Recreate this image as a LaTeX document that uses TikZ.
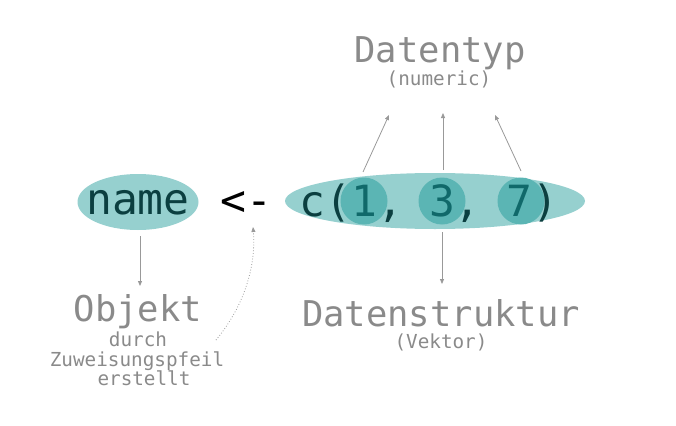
\documentclass[tikz,border=0pt]{standalone}
\usepackage{fontspec}
\setmonofont{DejaVu Sans Mono}
\usetikzlibrary{arrows.meta,shapes.geometric}
\definecolor{lteal}{HTML}{96D0CF}
\definecolor{mteal}{HTML}{5BB5B4}
\definecolor{dteal}{HTML}{0B3F40}
\definecolor{nteal}{HTML}{10696A}
\definecolor{lgray}{HTML}{8A8A8A}
\definecolor{agray}{HTML}{999999}
\tikzset{
  bigcode/.style={font=\ttfamily\fontsize{43}{43}\selectfont, text=dteal, inner sep=0pt},
  title/.style={font=\ttfamily\fontsize{35.5}{36}\selectfont, text=lgray, inner sep=0pt, anchor=base, text depth=0pt},
  sub/.style={font=\ttfamily\fontsize{19.3}{20}\selectfont, text=lgray, inner sep=0pt, anchor=base, text depth=0pt, text height=13pt},
  arr/.style={draw=agray, line width=0.8pt, -{Triangle[length=5pt,width=4pt]}},
  dotarr/.style={draw=agray, line width=0.8pt, dotted, -{Triangle[length=5pt,width=4pt]}},
}
\begin{document}
\begin{tikzpicture}[x=1pt,y=-1pt]
\useasboundingbox (0,0) rectangle (676,425);
% ellipses
\node[ellipse, fill=lteal, minimum width=121pt, minimum height=56pt, inner sep=0pt] (nameE) at (138,202) {};
\node[ellipse, fill=lteal, minimum width=300pt, minimum height=56pt, inner sep=0pt] (vecE) at (435,201) {};
\node[circle, fill=mteal, minimum size=47pt, inner sep=0pt] (c1) at (364,201) {};
\node[circle, fill=mteal, minimum size=47pt, inner sep=0pt] (c3) at (442,201) {};
\node[circle, fill=mteal, minimum size=47pt, inner sep=0pt] (c7) at (521,201) {};
% code text
\node[bigcode] (name) at (138,203) {name};
\node[bigcode, text=black] (assign) at (246,203) {<-};
\node[bigcode, anchor=center] (code) at (429,203) {c(\textcolor{nteal}{1}, \textcolor{nteal}{3}, \textcolor{nteal}{7})};
% labels
\node[title] (dtyp) at (440,63) {Datentyp};
\node[sub] (num) at (439,86) {(numeric)};
\node[title] (obj) at (138,321) {Objekt};
\node[sub] (durch) at (138,346) {durch};
\node[sub] (zuw) at (137,366) {Zuweisungspfeil};
\node[sub] (erst) at (144,385) {erstellt};
\node[title] (dstr) at (441,326) {Datenstruktur};
\node[sub] (vek) at (441,348) {(Vektor)};
% arrows
\coordinate (a1s) at (363,172);
\coordinate (a1e) at (389,115);
\coordinate (a2s) at (443,170);
\coordinate (a2e) at (443,113);
\coordinate (a3s) at (521,171);
\coordinate (a3e) at (495,115);
\draw[arr] (a1s) -- (a1e);
\draw[arr] (a2s) -- (a2e);
\draw[arr] (a3s) -- (a3e);
\coordinate (a4s) at (442,232);
\coordinate (a4e) at (442,284);
\draw[arr] (a4s) -- (a4e);
\coordinate (a5s) at (140,236);
\coordinate (a5e) at (140,286);
\draw[arr] (a5s) -- (a5e);
\coordinate (ds) at (216,340);
\coordinate (de) at (253,227);
\draw[dotarr] (ds) .. controls (245,305) and (256,265) .. (de);
\end{tikzpicture}
\end{document}
